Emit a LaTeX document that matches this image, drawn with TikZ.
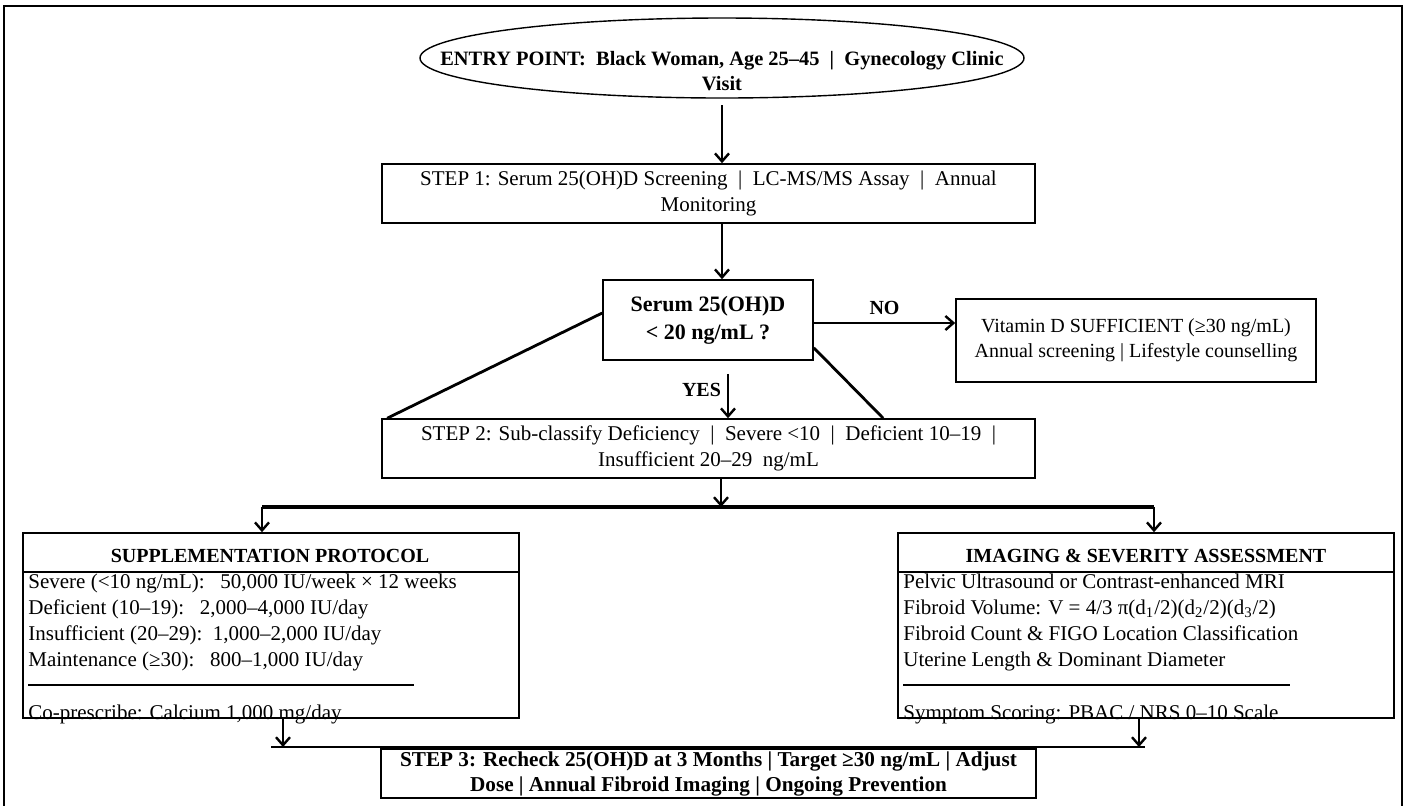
\documentclass[tikz,border=0pt]{standalone}
\usepackage{fontspec}
\setmainfont{Liberation Serif}
\usetikzlibrary{arrows.meta}

\begin{document}
\begin{tikzpicture}[x=0.5pt,y=-0.5pt,
  font=\fontsize{10.5}{12.85}\selectfont,
  box/.style={draw, line width=0.8pt, inner sep=0pt, align=center},
  arr/.style={line width=1.4pt, -{Straight Barb[length=4pt,width=7pt,line width=1.2pt]}},
  conn/.style={line width=1.4pt}]
\useasboundingbox (0,0) rectangle (1410,805);
\draw[line width=1.4pt] (4,815) -- (4,6) -- (1402,6) -- (1402,815);

% entry and screening
\node[font=\fontsize{10.2}{12.5}\selectfont\bfseries, align=center] (entry) at (722,71)
  {ENTRY POINT:\ \ Black Woman, Age 25–45\ \ |\ \ Gynecology Clinic\\Visit};
\draw[line width=0.7pt] ([yshift=6.5pt]entry.center) ellipse [x radius=302, y radius=40];
\node[box, minimum width=326.5pt, minimum height=29.5pt] (step1) at (708.5,193.5)
  {STEP 1: Serum 25(OH)D Screening\ \ |\ \ LC-MS/MS Assay\ \ |\ \ Annual\\Monitoring};
\draw[arr] ([yshift=-17pt]entry.center) -- (entry.center |- step1.north);

% decision
\node[box, font=\fontsize{11}{14}\selectfont\bfseries, minimum width=105pt, minimum height=40pt] (dec) at (708,320)
  {Serum 25(OH)D\\< 20 ng/mL ?};
\draw[arr] (entry.center |- step1.south) -- (entry.center |- dec.north);
\node[box, font=\fontsize{10}{12.5}\selectfont, minimum width=180pt, minimum height=41.5pt] (vit) at (1136,340.5)
  {Vitamin D SUFFICIENT (≥30 ng/mL)\\Annual screening | Lifestyle counselling};
\draw[arr] ([yshift=-1.5pt]dec.east) -- ([yshift=-1.5pt]dec.east -| vit.west)
  node[midway, above=0pt, font=\bfseries] (no) {NO};

\node[box, minimum width=326.5pt, minimum height=29.5pt] (step2) at (708.5,448.5)
  {STEP 2: Sub-classify Deficiency\ \ |\ \ Severe <10\ \ |\ \ Deficient 10–19\ \ |\\Insufficient 20–29\ \ ng/mL};
\coordinate (yestop) at ([xshift=10pt,yshift=-6.5pt]dec.south);
\draw[arr] (yestop) -- (yestop |- step2.north);
\node[font=\bfseries, anchor=east] (yes) at ([yshift=-8pt]yestop) {YES};
\draw[conn] ([yshift=3.5pt]dec.west) -- ([xshift=3pt]step2.north west);
\draw[conn] ([yshift=6.5pt]dec.south east) -- ([xshift=251pt]step2.north west);

% split into the two tracks
\coordinate (split) at (721,507);
\coordinate (bl) at (262,507);
\coordinate (br) at (1154,507);
\draw[arr] (split |- step2.south) -- (split);
\draw[line width=1.8pt] (bl) -- (br);

\node[box, minimum width=248pt, minimum height=92.5pt] (supp) at (271,625.5) {};
\node[box, minimum width=248pt, minimum height=92.5pt] (img) at (1146,625.5) {};
\draw[arr] (bl) -- (bl |- supp.north);
\draw[arr] (br) -- (br |- img.north);
\draw[line width=0.8pt] ([yshift=-20pt]supp.north west) -- ([yshift=-20pt]supp.north east);
\draw[line width=0.8pt] ([yshift=-20pt]img.north west) -- ([yshift=-20pt]img.north east);

\node[font=\bfseries] (supphd) at (270,556) {SUPPLEMENTATION PROTOCOL};
\node[anchor=north west, align=left, inner sep=0pt] (supplist) at (28,574)
  {Severe (<10 ng/mL):\ \ \ 50,000 IU/week × 12 weeks\\
   Deficient (10–19):\ \ \ 2,000–4,000 IU/day\\
   Insufficient (20–29):\ \ 1,000–2,000 IU/day\\
   Maintenance (≥30):\ \ \ 800–1,000 IU/day};
\draw[line width=0.6pt] (28,685) -- (414,685);
\node[anchor=base west, inner sep=0pt] (suppco) at (28,719) {Co-prescribe: Calcium 1,000 mg/day};

\node[font=\bfseries] (imghd) at (1146,556) {IMAGING \& SEVERITY ASSESSMENT};
\node[anchor=north west, align=left, inner sep=0pt] (imglist) at (903,574)
  {Pelvic Ultrasound or Contrast-enhanced MRI\\
   Fibroid Volume: V = 4/3 π(d\textsubscript{1}/2)(d\textsubscript{2}/2)(d\textsubscript{3}/2)\\
   Fibroid Count \& FIGO Location Classification\\
   Uterine Length \& Dominant Diameter};
\draw[line width=0.6pt] (903,685) -- (1290,685);
\node[anchor=base west, inner sep=0pt] (imgsym) at (903,719) {Symptom Scoring: PBAC / NRS 0–10 Scale};

% recheck
\coordinate (jl) at (283,747);
\coordinate (jr) at (1139,747);
\draw[arr] (jl |- supp.south) -- (jl);
\draw[arr] (jr |- img.south) -- (jr);
\draw[line width=1pt] ([xshift=-6pt]jl) -- ([xshift=3pt]jr);
\node[box, font=\fontsize{10.6}{12.5}\selectfont\bfseries, minimum width=327.5pt, minimum height=24.5pt] (step3) at (708.5,773.5)
  {STEP 3: Recheck 25(OH)D at 3 Months | Target ≥30 ng/mL | Adjust\\Dose | Annual Fibroid Imaging | Ongoing Prevention};
\end{tikzpicture}
\end{document}
